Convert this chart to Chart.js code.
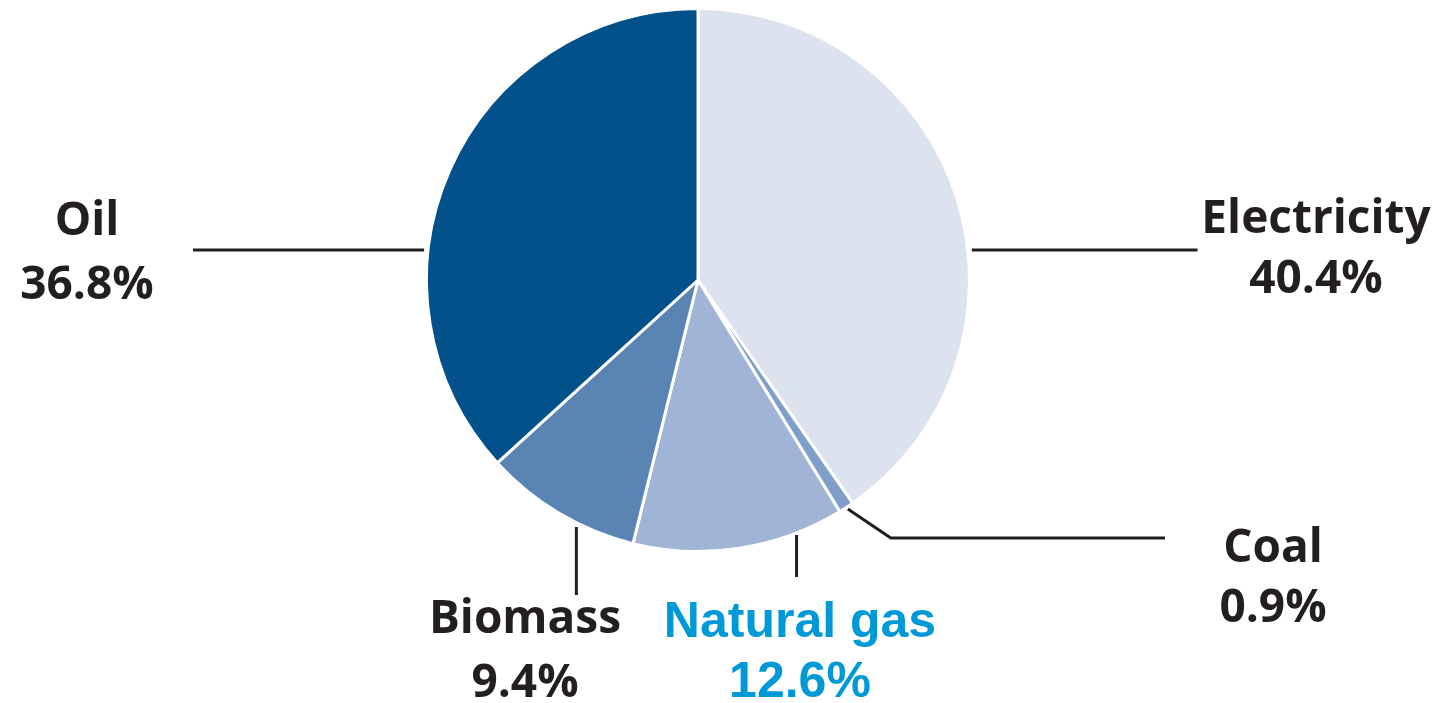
<!DOCTYPE html>
<html>
<head>
<meta charset="utf-8">
<script src="https://cdn.jsdelivr.net/npm/chart.js@4"></script>
<style>
  html, body { margin: 0; padding: 0; background: #ffffff; }
  #wrap { width: 1437px; height: 703px; position: relative; }
</style>
</head>
<body>
<div id="wrap"><canvas id="c" width="1437" height="703"></canvas></div>
<script>
const categories = ["Electricity", "Coal", "Natural gas", "Biomass", "Oil"];
const shares = [40.4, 0.9, 12.6, 9.4, 36.8];
const valueLabels = ["40.4%", "0.9%", "12.6%", "9.4%", "36.8%"];
const sliceColors = ["#dce3ef", "#7f9fca", "#a0b5d5", "#5a84b4", "#03518b"];

// Label layout relative to the pie centre (cx, cy); leader-line x values are
// multiples of the radius, "edge" means the point on the pie rim at that y.
const labelLayout = [
  { dx: 618, y1: -47, y2: 13, line: [["edge", -30], [1.84, -30]], color: "#231f20", font: "bold 46px 'Open Sans'" },
  { dx: 575, y1: 282, y2: 342, line: [[0.552, 229], [0.71, 258], [1.72, 258]], color: "#231f20", font: "bold 46px 'Open Sans'" },
  { dx: 102, y1: 357, y2: 417, line: [[0.363, 255], [0.363, 297]], color: "#0099d8", font: "bold 50px 'Liberation Sans'" },
  { dx: -173, y1: 353, y2: 417, line: [[-0.448, 247], [-0.448, 315]], color: "#231f20", font: "bold 46px 'Open Sans'" },
  { dx: -611, y1: -45, y2: 19, line: [["-edge", -30], [-1.86, -30]], color: "#231f20", font: "bold 46px 'Open Sans'" }
];

const labelPlugin = {
  id: 'pieLabels',
  afterDatasetsDraw(chart) {
    const ctx = chart.ctx;
    const arc = chart.getDatasetMeta(0).data[0];
    const cx = arc.x, cy = arc.y, r = arc.outerRadius;
    ctx.save();
    labelLayout.forEach((L, i) => {
      ctx.beginPath();
      L.line.forEach((p, j) => {
        const yy = p[1];
        let x;
        if (p[0] === "edge" || p[0] === "-edge") {
          const e = Math.sqrt(Math.max(r * r - yy * yy, 0)) + 4;
          x = cx + (p[0] === "edge" ? e : -e);
        } else {
          x = cx + p[0] * r;
        }
        const y = cy + yy;
        if (j === 0) ctx.moveTo(x, y); else ctx.lineTo(x, y);
      });
      ctx.strokeStyle = "#231f20";
      ctx.lineWidth = 3;
      ctx.lineJoin = "miter";
      ctx.stroke();

      ctx.fillStyle = L.color;
      ctx.font = L.font;
      ctx.textAlign = "center";
      ctx.textBaseline = "alphabetic";
      ctx.fillText(categories[i], cx + L.dx, cy + L.y1);
      ctx.fillText(valueLabels[i], cx + L.dx, cy + L.y2);
    });
    ctx.restore();
  }
};

new Chart(document.getElementById('c'), {
  type: 'pie',
  data: {
    labels: categories,
    datasets: [{
      data: shares,
      backgroundColor: sliceColors,
      borderColor: "#ffffff",
      borderWidth: 3
    }]
  },
  options: {
    responsive: false,
    animation: false,
    layout: { padding: { left: 425, right: 466, top: 7, bottom: 150 } },
    plugins: { legend: { display: false }, tooltip: { enabled: false } }
  },
  plugins: [labelPlugin]
});
</script>
</body>
</html>
